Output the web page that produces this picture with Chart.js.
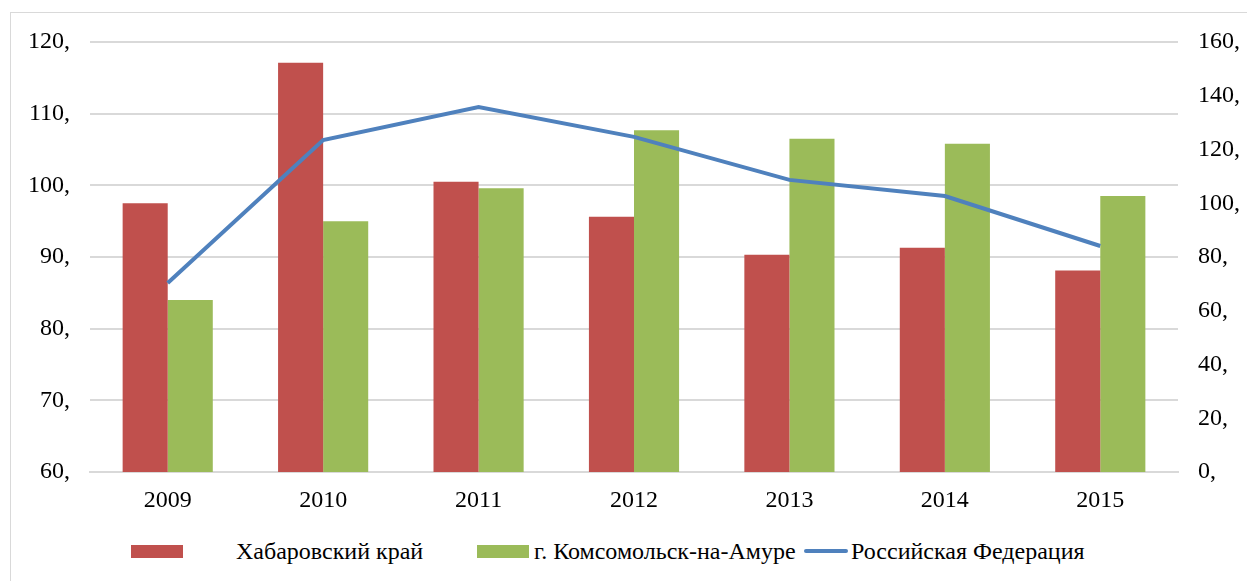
<!DOCTYPE html>
<html>
<head>
<meta charset="utf-8">
<script src="https://cdn.jsdelivr.net/npm/chart.js@4"></script>
<style>
  html, body { margin: 0; padding: 0; background: #fff; overflow: hidden; font-family: 'Liberation Serif', 'Times New Roman', serif; }
  #wrap { position: relative; width: 1247px; height: 581px; }
  #frame { position: absolute; left: 10px; top: 12px; width: 1400px; height: 700px; border: 1px solid #d9d9d9; }
  #box { position: absolute; left: 0; top: 0; width: 1247px; height: 520px; }
  #legend { position: absolute; left: 0; top: 536px; width: 1247px; height: 30px; font-family: 'Liberation Serif', 'Times New Roman', serif; font-size: 24px; color: #000; }
  .item { position: absolute; top: 0; display: flex; align-items: center; height: 30px; white-space: nowrap; }
  .swatch { display: inline-block; }
  .sq { width: 52px; height: 13px; }
  .ln { width: 44px; height: 4px; border-radius: 2px; }
</style>
</head>
<body>
<div id="wrap">
  <div id="frame"></div>
  <div id="legend">
    <div class="item" style="left:131px"><span class="swatch sq" style="margin-right:53px"></span><span>Хабаровский край</span></div>
    <div class="item" style="left:477px"><span class="swatch sq" style="margin-right:5px"></span><span>г. Комсомольск-на-Амуре</span></div>
    <div class="item" style="left:804px"><span class="swatch ln" style="margin-right:3px"></span><span>Российская Федерация</span></div>
  </div>
  <div id="box"><canvas id="chart" width="1247" height="520"></canvas></div>
</div>
<script>
const years = ['2009', '2010', '2011', '2012', '2013', '2014', '2015'];
const khabarovsk = [97.5, 117.1, 100.5, 95.6, 90.3, 91.3, 88.1];
const komsomolsk = [84.0, 95.0, 99.6, 107.7, 106.5, 105.8, 98.5];
const russia = [70.3, 123.5, 135.8, 124.7, 108.7, 102.7, 84.1];

const seriesNames = ['Хабаровский край', 'г. Комсомольск-на-Амуре', 'Российская Федерация'];
const colors = ['#c0504d', '#9bbb59', '#4f81bd'];

// colour the legend swatches from the same palette
document.querySelectorAll('#legend .swatch').forEach((sw, i) => {
  sw.style.background = colors[i];
});

const fontFamily = "'Liberation Serif', 'Times New Roman', serif";
Chart.defaults.font.family = fontFamily;
const tickFont = { family: fontFamily, size: 24 };

const chart = new Chart(document.getElementById('chart'), {
  type: 'bar',
  data: {
    labels: years,
    datasets: [
      {
        type: 'line',
        label: seriesNames[2],
        data: russia,
        yAxisID: 'y2',
        borderColor: colors[2],
        backgroundColor: colors[2],
        borderWidth: 4,
        pointRadius: 0,
        tension: 0,
        order: 0
      },
      {
        label: seriesNames[0],
        data: khabarovsk,
        yAxisID: 'y',
        backgroundColor: colors[0],
        barPercentage: 1,
        categoryPercentage: 0.58,
        order: 1
      },
      {
        label: seriesNames[1],
        data: komsomolsk,
        yAxisID: 'y',
        backgroundColor: colors[1],
        barPercentage: 1,
        categoryPercentage: 0.58,
        order: 1
      }
    ]
  },
  options: {
    responsive: false,
    animation: false,
    layout: { padding: { top: 42, left: 0, right: 0, bottom: 0 } },
    plugins: { legend: { display: false }, tooltip: { enabled: false } },
    scales: {
      x: {
        grid: { display: false, drawTicks: false },
        border: { display: true, color: '#d9d9d9', width: 2 },
        ticks: { color: '#000', font: tickFont, padding: 14 },
        afterFit: (s) => { s.height = 48; }
      },
      y: {
        position: 'left',
        min: 60,
        max: 120,
        ticks: { stepSize: 10, color: '#000', font: tickFont, padding: 20, callback: (v) => v + ',' },
        grid: { color: '#d9d9d9', lineWidth: 2, drawTicks: false },
        border: { display: false },
        afterFit: (s) => { s.width = 90; }
      },
      y2: {
        position: 'right',
        min: 0,
        max: 160,
        ticks: { stepSize: 20, color: '#000', font: tickFont, padding: 20, callback: (v) => v + ',' },
        grid: { display: false, drawTicks: false },
        border: { display: false },
        afterFit: (s) => { s.width = 69; }
      }
    }
  }
});
</script>
</body>
</html>
